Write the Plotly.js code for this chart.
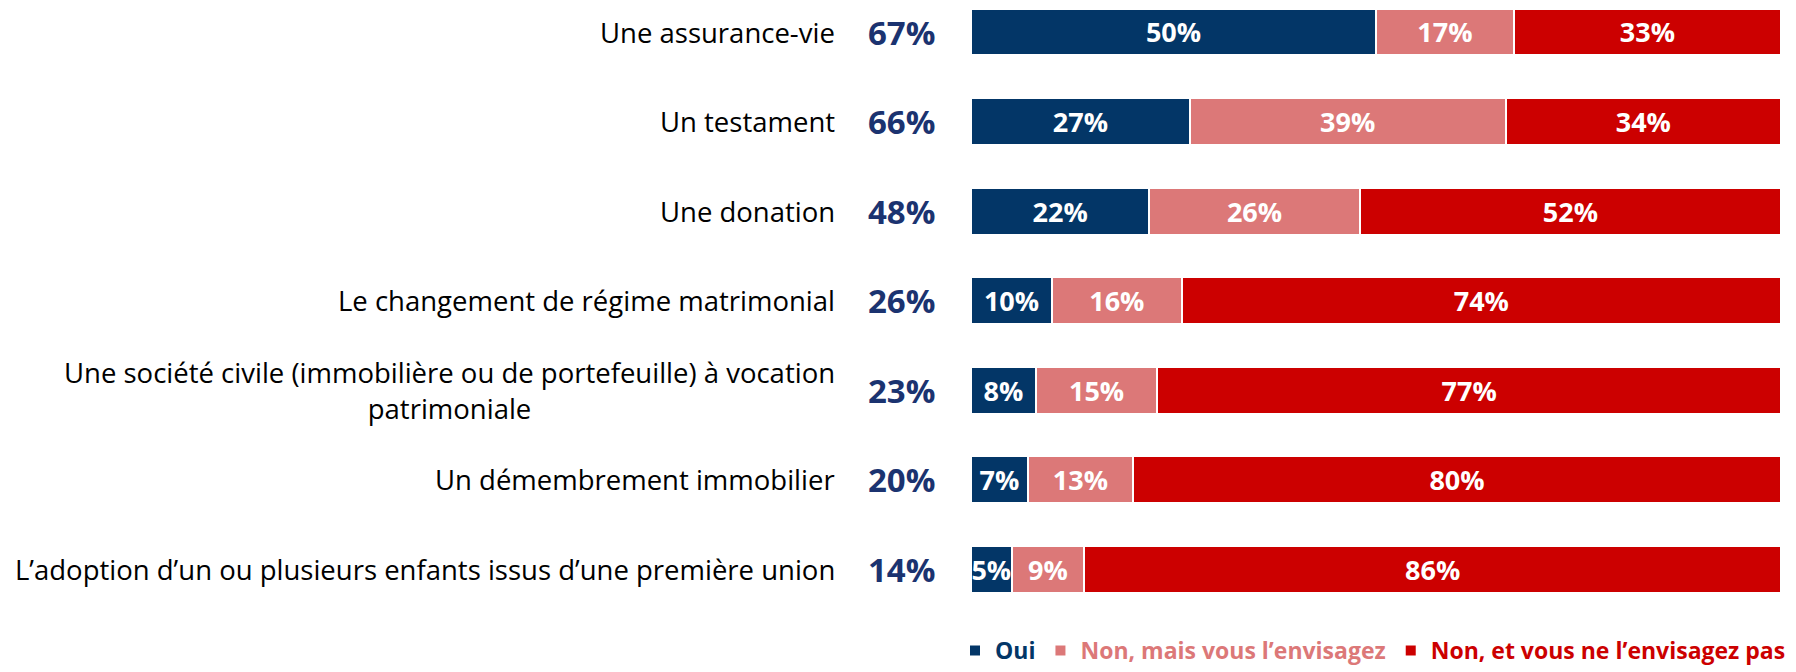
<!DOCTYPE html>
<html>
<head>
<meta charset="utf-8">
<script src="https://cdn.plot.ly/plotly-3.0.1.min.js"></script>
<style>html,body{margin:0;padding:0;background:#fff;}#chart{width:1796px;height:672px;}</style>
</head>
<body>
<div id="chart"></div>
<script>
const categories = [
  "Une assurance-vie",
  "Un testament",
  "Une donation",
  "Le changement de régime matrimonial",
  "Une société civile (immobilière ou de portefeuille) à vocation<br>patrimoniale",
  "Un démembrement immobilier",
  "L’adoption d’un ou plusieurs enfants issus d’une première union"
];
const oui = [50, 27, 22, 10, 8, 7, 5];
const envisagez = [17, 39, 26, 16, 15, 13, 9];
const pas = [33, 34, 52, 74, 77, 80, 86];
const totals = [67, 66, 48, 26, 23, 20, 14];
const seriesNames = ["Oui", "Non, mais vous l’envisagez", "Non, et vous ne l’envisagez pas"];
const colors = ["#033667", "#DC7878", "#CC0000"];
const totalColor = "#1B3370";

const FONT = "Open Sans, sans-serif";
const seriesVals = [oui, envisagez, pas];
const traces = seriesVals.map((vals, i) => ({
  type: "bar",
  orientation: "h",
  y: categories,
  x: vals,
  name: '<span style="color:' + colors[i] + '"><b>' + seriesNames[i] + '</b></span>',
  marker: {color: colors[i], line: {color: "#ffffff", width: 2}},
  text: vals.map(v => v + "%"),
  textposition: "inside",
  insidetextanchor: "middle",
  textangle: 0,
  constraintext: "none",
  textfont: {family: FONT, size: 27, color: "#ffffff", weight: "bold"},
  hoverinfo: "skip"
}));

const annotations = [];
categories.forEach((c, i) => {
  annotations.push({
    xref: "paper", yref: "y", x: -0.1654, y: c,
    xanchor: "right", yanchor: "middle", align: "center",
    text: c, showarrow: false,
    font: {family: FONT, size: 27.5, color: "#000000"}
  });
  annotations.push({
    xref: "paper", yref: "y", x: -0.042, y: c,
    xanchor: "right", yanchor: "middle", align: "right",
    text: "<b>" + totals[i] + "%</b>", showarrow: false,
    font: {family: FONT, size: 33, color: totalColor}
  });
});

const PLOT_L = 971, PLOT_W = 810, PLOT_B = 72, LEGEND_RIGHT = 1791;

const layout = {
  width: 1796, height: 672,
  margin: {l: PLOT_L, r: 1796 - PLOT_L - PLOT_W, t: 0, b: PLOT_B, autoexpand: false},
  barmode: "stack",
  bargap: 0.475,
  paper_bgcolor: "#ffffff",
  plot_bgcolor: "#ffffff",
  showlegend: true,
  legend: {
    orientation: "h", x: -0.01, xanchor: "left", y: -PLOT_B / 600, yanchor: "bottom",
    font: {family: FONT, size: 23}, traceorder: "normal", itemwidth: 30
  },
  xaxis: {range: [0, 100], visible: false, fixedrange: true},
  yaxis: {
    type: "category", categoryorder: "array", categoryarray: categories,
    range: [6.346, -0.3575], showticklabels: false, showgrid: false, zeroline: false, showline: false, ticks: ""
  },
  annotations: annotations
};

Plotly.newPlot("chart", traces, layout, {displayModeBar: false, staticPlot: true}).then(gd => {
  const bg = gd.querySelector(".legend .bg");
  if (bg) {
    const w = parseFloat(bg.getAttribute("width"));
    const newX = (LEGEND_RIGHT - w - PLOT_L) / PLOT_W;
    return Plotly.relayout(gd, {"legend.x": newX});
  }
});
</script>
</body>
</html>
